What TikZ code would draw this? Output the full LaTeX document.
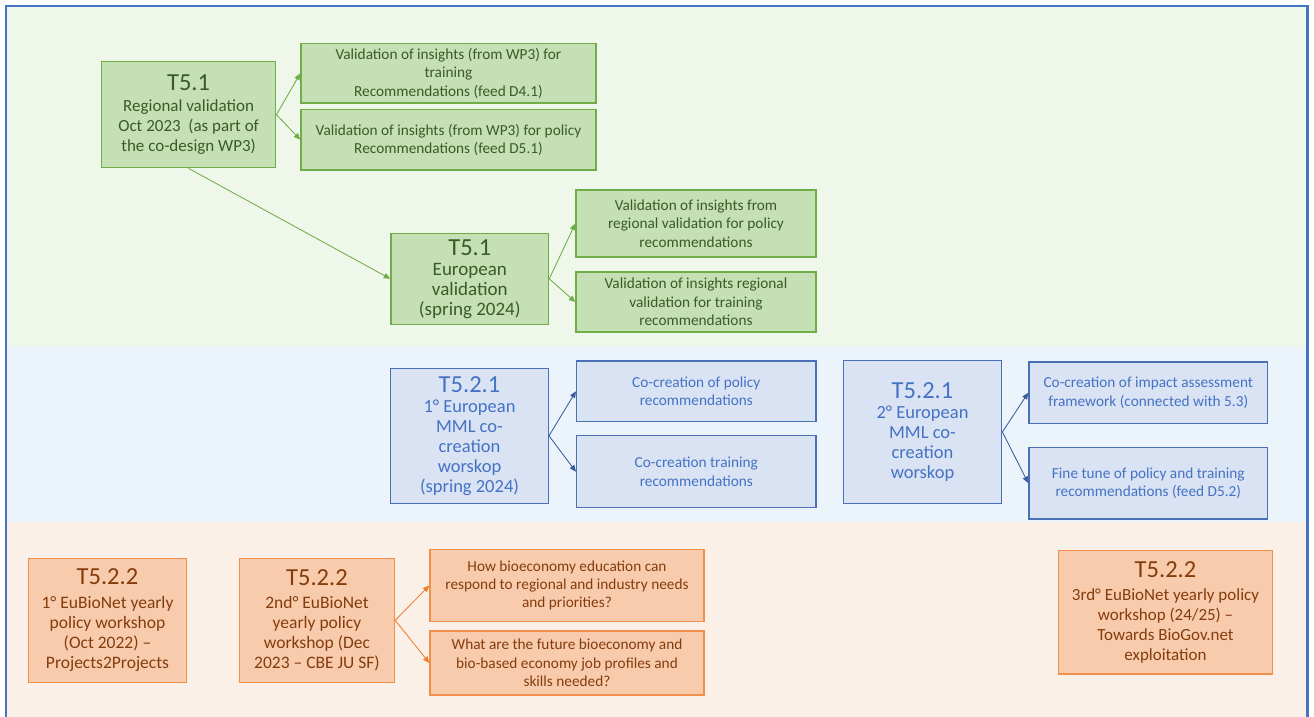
\documentclass[tikz,border=0pt]{standalone}
\usepackage{fontspec}
\setmainfont{Carlito}
\usetikzlibrary{arrows.meta}

\definecolor{framecol}{HTML}{4472C4}
\definecolor{bandgreen}{HTML}{EFF6EA}
\definecolor{bandblue}{HTML}{EBF3FB}
\definecolor{bandpeach}{HTML}{FBF0E7}
\definecolor{gfill}{HTML}{C5E0B4}
\definecolor{gline}{HTML}{70AD47}
\definecolor{gtext}{HTML}{3A5A28}
\definecolor{bfill}{HTML}{DAE3F3}
\definecolor{bline}{HTML}{4A6FB5}
\definecolor{btext}{HTML}{4472C4}
\definecolor{barrow}{HTML}{3A5C9E}
\definecolor{pfill}{HTML}{F8CBAD}
\definecolor{pline}{HTML}{F0904A}
\definecolor{ptext}{HTML}{843C0C}
\definecolor{parrow}{HTML}{ED7D31}

\newcommand\tasktitle[1]{{\fontsize{24.5}{26}\selectfont #1}}

\tikzset{
  taskbox/.style={draw, line width=1.4pt, inner sep=0pt, align=center},
  greenbox/.style={taskbox, draw=gline, fill=gfill, text=gtext},
  bluebox/.style={taskbox, draw=bline, fill=bfill, text=btext},
  peachbox/.style={taskbox, draw=pline, fill=pfill, text=ptext},
  small/.style={font=\fontsize{15.3}{18.3}\selectfont},
  link/.style={line width=0.8pt, -{Triangle[length=6.5pt,width=5.5pt]}},
  glink/.style={link, draw=gline, fill=gline},
  blink/.style={link, draw=barrow, fill=barrow},
  plink/.style={link, draw=parrow, fill=parrow},
  frameline/.style={draw=framecol, line width=2.2pt}
}

\begin{document}
\begin{tikzpicture}[x=1pt, y=-1pt]
\useasboundingbox (0,0) rectangle (1314,717);
\fill[white] (0,0) rectangle (1314,717);

% three horizontal bands
\fill[bandgreen] (7,6) rectangle (1307,347.3);
\fill[bandblue]  (7,347.3) rectangle (1307,521.7);
\fill[bandpeach] (7,521.7) rectangle (1307,717);
\draw[frameline] (6.3,725) -- (6.3,5.8) -- (1307.5,5.8) -- (1307.5,725);

% ---- T5.1 : validation ----
\node[greenbox, minimum width=174.3, minimum height=106, font=\fontsize{17}{20}\selectfont] (A) at (188.6,114.7)
  {\tasktitle{T5.1}\\[1.5pt]Regional validation\\Oct 2023\ \ (as part of\\the co-design WP3)};
\node[greenbox, small, minimum width=294.8, minimum height=59.3] (B1) at (448.4,73.4)
  {Validation of insights (from WP3) for\\training\\Recommendations (feed D4.1)};
\node[greenbox, small, minimum width=295, minimum height=60.7] (B2) at (448.5,139.7)
  {Validation of insights (from WP3) for policy\\Recommendations (feed D5.1)};
\node[greenbox, minimum width=157.6, minimum height=91, font=\fontsize{19}{19.7}\selectfont] (C) at (469.8,278.8)
  {\tasktitle{T5.1}\\[1pt]European\\validation\\(spring 2024)};
\node[greenbox, small, minimum width=240, minimum height=67] (C1) at (696,223.5)
  {Validation of insights from\\regional validation for policy\\recommendations};
\node[greenbox, small, minimum width=240, minimum height=60] (C2) at (696,302)
  {Validation of insights regional\\validation for training\\recommendations};

\draw[glink] (A.east) -- (B1.west);
\draw[glink] (A.east) -- (B2.west);
\draw[glink] (A.south) -- (C.west);
\draw[glink] (C.east) -- (C1.west);
\draw[glink] (C.east) -- (C2.west);

% ---- T5.2.1 : co-creation workshops ----
\node[bluebox, minimum width=157.6, minimum height=135, font=\fontsize{18.5}{20}\selectfont] (D) at (469.5,435.8)
  {\tasktitle{T5.2.1}\\1° European\\MML co-\\creation\\worskop\\(spring 2024)};
\node[bluebox, small, minimum width=239.3, minimum height=60.7] (D1) at (696.3,391.3)
  {Co-creation of policy\\recommendations};
\node[bluebox, small, minimum width=239.3, minimum height=72] (D2) at (696.3,471.7)
  {Co-creation training\\recommendations};
\node[bluebox, minimum width=158.4, minimum height=142.6, font=\fontsize{18.5}{20}\selectfont] (E) at (922.5,432)
  {\tasktitle{T5.2.1}\\2° European\\MML co-\\creation\\worskop};
\node[bluebox, small, minimum width=238.7, minimum height=61.3] (E1) at (1148.3,392.7)
  {Co-creation of impact assessment\\framework (connected with 5.3)};
\node[bluebox, small, minimum width=238.7, minimum height=71.7] (E2) at (1148.3,483.1)
  {Fine tune of policy and training\\recommendations (feed D5.2)};

\draw[blink] (D.east) -- (D1.west);
\draw[blink] (D.east) -- (D2.west);
\draw[blink] (E.east) -- (E1.west);
\draw[blink] (E.east) -- (E2.west);

% ---- T5.2.2 : yearly policy workshops ----
\node[peachbox, minimum width=158.3, minimum height=124, font=\fontsize{17.5}{20.2}\selectfont] (F) at (107.5,620.3)
  {\tasktitle{T5.2.2}\\[3pt]1° EuBioNet yearly\\policy workshop\\(Oct 2022) –\\Projects2Projects};
\node[peachbox, minimum width=155, minimum height=124, font=\fontsize{17.5}{20.2}\selectfont] (G) at (317,620.3)
  {\tasktitle{T5.2.2}\\[3pt]2nd° EuBioNet\\yearly policy\\workshop (Dec\\2023 – CBE JU SF)};
\node[peachbox, small, minimum width=274, minimum height=72.4] (G1) at (567,585.5)
  {How bioeconomy education can\\respond to regional and industry needs\\and priorities?};
\node[peachbox, small, minimum width=274, minimum height=64] (G2) at (567,663)
  {What are the future bioeconomy and\\bio-based economy job profiles and\\skills needed?};
\node[peachbox, minimum width=214.4, minimum height=123.3, font=\fontsize{17}{20}\selectfont] (H) at (1165.5,612.3)
  {\tasktitle{T5.2.2}\\[2.5pt]3rd° EuBioNet yearly policy\\workshop (24/25) –\\Towards BioGov.net\\exploitation};

\draw[plink] (G.east) -- (G1.west);
\draw[plink] (G.east) -- (G2.west);
\end{tikzpicture}
\end{document}
